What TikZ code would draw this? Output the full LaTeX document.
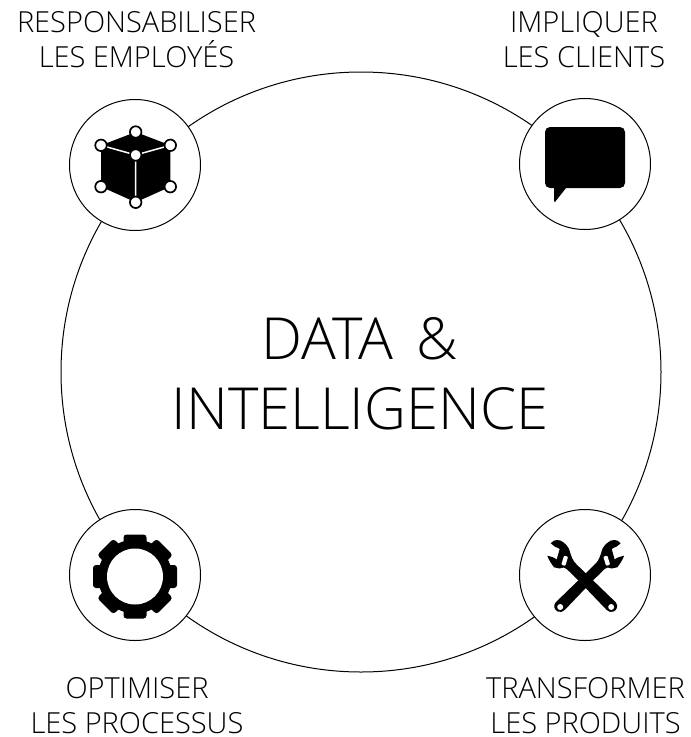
\documentclass[tikz,border=0pt]{standalone}
\usepackage{fontspec}
\setmainfont{Open Sans}[UprightFont=* Light]
\def\wrenchshape{
	(-35,-31.7) .. controls (-33,-34) and (-31,-35) .. (-29,-35)
	.. controls (-26,-35.2) and (-24,-34) .. (-22.4,-32.7)
	.. controls (-19.5,-30.5) and (-18,-28.5) .. (-17,-26.7)
	.. controls (-15,-22) and (-15,-19) .. (-13.5,-16.7)
	.. controls (-12.5,-14) and (-10.5,-12) .. (-8.5,-10)
	-- (0,-1.7) -- (30,27.3)
	.. controls (33,31) and (31,35) .. (28,36.5)
	.. controls (25.5,37.5) and (23,37) .. (21,35)
	-- (-7.7,5) -- (-19,-6)
	.. controls (-20,-7) and (-21,-7.5) .. (-22,-7.5)
	-- (-26,-6.5) -- (-31.7,-7.7)
	.. controls (-34,-11) and (-37,-15) .. (-38.4,-19.3)
	.. controls (-35,-18.5) and (-32,-18) .. (-29,-15.5)
	-- (-26,-26)
	.. controls (-27,-27) and (-29,-27.5) .. (-30.7,-28.3)
	-- cycle
}
\tikzset{
	x=1pt,
	y=-1pt,
	bigring/.style={
		circle,
		draw=black,
		line width=1pt,
		minimum size=600pt,
		inner sep=0pt,
	},
	iconring/.style={
		circle,
		draw=black,
		fill=white,
		line width=1pt,
		minimum size=131pt,
		inner sep=0pt,
	},
	caption/.style={
		align=center,
		font=\fontsize{29}{35}\selectfont,
		inner sep=0pt,
	},
	title/.style={
		align=center,
		font=\fontsize{58}{70}\selectfont,
		inner sep=0pt,
	},
	knob/.style={
		circle,
		draw=black,
		fill=white,
		line width=1.7pt,
		minimum size=11.5pt,
		inner sep=0pt,
	},
}
\begin{document}
\begin{tikzpicture}
    \useasboundingbox (0,0) rectangle (691,737);
    \node[bigring] (ring) at (361,372) {};
    \node[iconring] (employes) at (135,165) {};
    \node[iconring] (clients) at (585,164) {};
    \node[iconring] (processus) at (135,575) {};
    \node[iconring] (produits) at (585,575) {};

    \node[title] (data) at (360,374) {DATA\hspace{8pt} \&\\INTELLIGENCE};
    \node[caption] (lemployes) at (136.5,40) {RESPONSABILISER\\LES EMPLOYÉS};
    \node[caption] (lclients) at (584,40) {IMPLIQUER\\LES CLIENTS};
    \node[caption] (lprocessus) at (137,706) {OPTIMISER\\LES PROCESSUS};
    \node[caption] (lproduits) at (585.5,706) {TRANSFORMER\\LES PRODUITS};

    % cube
    \begin{scope}[shift={(employes.center)}]
        \fill[black] (0.7,-33) -- (35.3,-19.7) -- (35.3,21.7) -- (0.7,37.3) -- (-34,21.7) -- (-34,-19.7) -- cycle;
        \draw[white,line width=1.5pt] (0.7,-10) -- (-34,-19.7) (0.7,-10) -- (35.3,-19.7) (0.7,-10) -- (0.7,37.3);
        \foreach \p in {(0.7,-33),(35.3,-19.7),(35.3,21.7),(0.7,37.3),(-34,21.7),(-34,-19.7),(0.7,-10)}
            \node[knob] at \p {};
    \end{scope}

    % bubble
    \begin{scope}[shift={(clients.center)}]
        \fill[black,rounded corners=5pt] (-40,-37) rectangle (40,24);
        \fill[black] (-31,20) -- (-31,37) -- (-30,38) -- (-19,24) -- (-19,20) -- cycle;
    \end{scope}

    % gear
    \begin{scope}[shift={(135,576.5)}]
        \foreach \a in {0,45,...,315}
            \fill[black,rotate=\a,rounded corners=3pt] (-11.5,-42) rectangle (11.5,-25);
        \fill[black] (0,0) circle (37);
        \fill[white] (0,0) circle (28);
    \end{scope}

    % wrenches
    \begin{scope}[shift={(585.7,575)}]
        \foreach \s in {1,-1} {
            \fill[black,xscale=\s] \wrenchshape;
        }
        \foreach \s in {1,-1} {
            \fill[white,xscale=\s] (25.5,32) circle (3);
            \fill[white,xscale=\s,rounded corners=1pt,rotate around={-17:(-21,-14.3)}] (-23.1,-19.1) rectangle (-18.9,-9.5);
        }
    \end{scope}
\end{tikzpicture}
\end{document}
